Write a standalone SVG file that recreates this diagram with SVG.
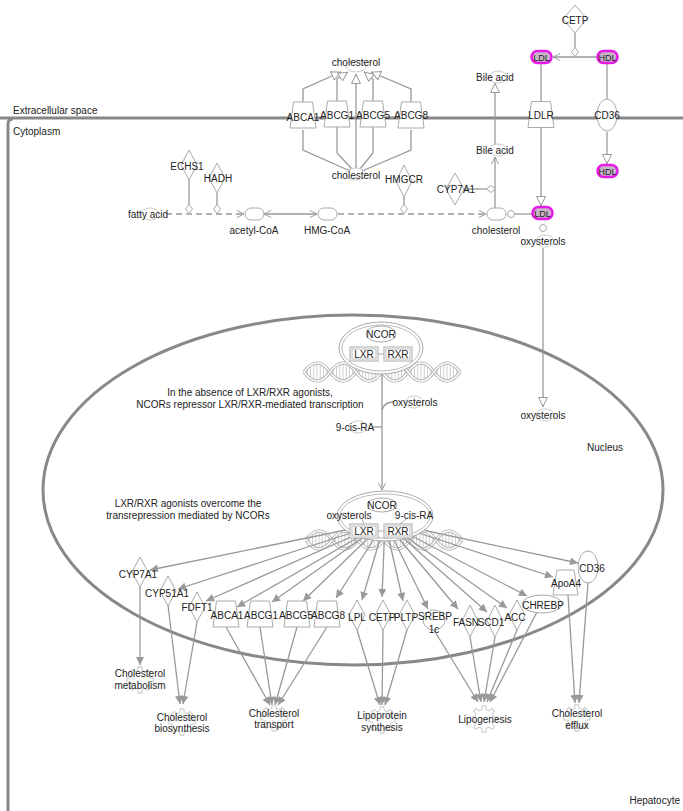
<svg xmlns="http://www.w3.org/2000/svg" width="683" height="811" viewBox="0 0 683 811">
<defs>
<style>
.t{font-family:"Liberation Sans",Arial,sans-serif;font-size:10px;fill:#222;text-anchor:middle}
.tl{text-anchor:start}
.tr{text-anchor:end}
.s9{font-size:9px}
.ln{stroke:#999;stroke-width:1.3;fill:none}
.dash{stroke-dasharray:6,4}
.nd{fill:#fff;stroke:#aaa;stroke-width:1}
.fa{fill:none;stroke:#ccc;stroke-width:1}
.mem{stroke:#888;stroke-width:3;fill:none}
.hl{fill:#c8b4c8;stroke:#e619e6;stroke-width:2.5}
.gr{fill:none;stroke:#d0d0d0;stroke-width:1}
</style>
<marker id="af" viewBox="0 0 10 10" refX="10" refY="5" markerWidth="9" markerHeight="8" markerUnits="userSpaceOnUse" orient="auto"><path d="M0,0L10,5L0,10z" fill="#999"/></marker>
<marker id="ao" viewBox="0 0 10 10" refX="10" refY="5" markerWidth="10" markerHeight="10" markerUnits="userSpaceOnUse" orient="auto"><path d="M0.5,0.5L9.5,5L0.5,9.5z" fill="#fff" stroke="#999"/></marker>
<marker id="ac" viewBox="0 0 10 10" refX="9.5" refY="5" markerWidth="8" markerHeight="8" markerUnits="userSpaceOnUse" orient="auto-start-reverse"><path d="M0.5,0.5L9.5,5L0.5,9.5" fill="none" stroke="#999" stroke-width="1.2"/></marker>
<path id="trap" d="M-9.5,-13H9.5L13,13H-13z"/>
<path id="dia" d="M0,-15L8,0L0,15L-8,0z"/>
<path id="sdia" d="M0,-4.5L3.5,0L0,4.5L-3.5,0z"/>
<path id="gear" d="M7.76,-1.94L10.89,-1.53L10.89,1.53L7.76,1.94L6.86,4.12L8.78,6.62L6.62,8.78L4.12,6.86L1.94,7.76L1.53,10.89L-1.53,10.89L-1.94,7.76L-4.12,6.86L-6.62,8.78L-8.78,6.62L-6.86,4.12L-7.76,1.94L-10.89,1.53L-10.89,-1.53L-7.76,-1.94L-6.86,-4.12L-8.78,-6.62L-6.62,-8.78L-4.12,-6.86L-1.94,-7.76L-1.53,-10.89L1.53,-10.89L1.94,-7.76L4.12,-6.86L6.62,-8.78L8.78,-6.62L6.86,-4.12Z"/>
<path id="rung" d="M3.25,-3.9v7.8M6.5,-6.75v13.5M9.75,-8.4v16.8M13,-9v18M16.25,-8.4v16.8M19.5,-6.75v13.5M22.75,-3.9v7.8" stroke="#bbb" stroke-width="0.7" fill="none"/>
<g id="helix">
<use href="#rung"/><use href="#rung" x="26"/><use href="#rung" x="52"/><use href="#rung" x="78"/><use href="#rung" x="104"/><use href="#rung" x="130"/>
<path d="M0,0q13,-18 26,0t26,0t26,0t26,0t26,0t26,0" fill="none" stroke="#aaa" stroke-width="3.2"/>
<path d="M0,0q13,-18 26,0t26,0t26,0t26,0t26,0t26,0" fill="none" stroke="#fff" stroke-width="1.6"/>
<path d="M0,0q13,18 26,0t26,0t26,0t26,0t26,0t26,0" fill="none" stroke="#aaa" stroke-width="3.2"/>
<path d="M0,0q13,18 26,0t26,0t26,0t26,0t26,0t26,0" fill="none" stroke="#fff" stroke-width="1.6"/>
</g>
</defs>
<rect width="683" height="811" fill="#fff"/>

<g id="compartments">
<path class="mem" d="M0,118H683"/>
<path class="mem" d="M8,811V124Q8,119 13,119"/>
<ellipse cx="353" cy="490" rx="310" ry="175" class="mem"/>
<text class="t tl" x="13" y="114">Extracellular space</text>
<text class="t tl" x="13" y="135">Cytoplasm</text>
<text class="t tr" x="680" y="804">Hepatocyte</text>
<text class="t" x="605" y="451">Nucleus</text>
<text class="t" x="250" y="396">In the absence of LXR/RXR agonists,</text>
<text class="t" x="250" y="408">NCORs repressor LXR/RXR-mediated transcription</text>
<text class="t" x="188" y="507">LXR/RXR agonists overcome the</text>
<text class="t" x="188" y="519">transrepression mediated by NCORs</text>
</g>

<g id="dna">
<use href="#helix" transform="translate(304,372)"/>
<use href="#helix" transform="translate(306,540)"/>
</g>

<g id="connectors">
<path class="ln" marker-end="url(#ao)" d="M303,102V89L341,72"/>
<path class="ln" marker-end="url(#ao)" d="M337,101V79L348,72"/>
<path class="ln" marker-end="url(#ao)" d="M356,168V74"/>
<path class="ln" marker-end="url(#ao)" d="M373,101V79L364,72"/>
<path class="ln" marker-end="url(#ao)" d="M411,102V89L371,72"/>
<path class="ln" d="M303,130V150L350,171"/>
<path class="ln" d="M337,126V153L352,169"/>
<path class="ln" d="M373,126V153L360,169"/>
<path class="ln" d="M411,130V150L362,171"/>
<path class="ln" d="M575,33V48"/>
<path class="ln" marker-end="url(#ac)" d="M597,57H553"/>
<path class="ln" d="M541,63V102"/>
<path class="ln" marker-end="url(#ao)" d="M541,127V206"/>
<path class="ln" d="M607,63V99"/>
<path class="ln" marker-end="url(#ao)" d="M607,132V164"/>
<path class="ln" marker-end="url(#ao)" d="M495,145V83"/>
<path class="ln" marker-end="url(#ac)" d="M495,208V157"/>
<path class="ln" d="M464,189H487"/>
<path class="ln dash" marker-end="url(#ac)" d="M166,214H244"/>
<path class="ln" d="M189,180V205"/>
<path class="ln" d="M217,193V205"/>
<path class="ln" marker-start="url(#ac)" marker-end="url(#ac)" d="M264,214H317"/>
<path class="ln dash" marker-end="url(#ac)" d="M338,214H486"/>
<path class="ln" d="M404,197V205"/>
<path class="ln" d="M515,214H532"/>
<path class="ln" marker-end="url(#ao)" d="M543,248V407"/>
<path class="ln" marker-end="url(#ac)" d="M382,374V490"/>
<path class="ln" d="M394,402Q384,402 382,410"/>
<path class="ln" d="M372,427H382"/>
<path class="ln" marker-end="url(#af)" d="M385,522L150,570"/>
<path class="ln" marker-end="url(#af)" d="M385,522L178,589"/>
<path class="ln" marker-end="url(#af)" d="M385,522L206,601"/>
<path class="ln" marker-end="url(#af)" d="M385,522L237,607"/>
<path class="ln" marker-end="url(#af)" d="M385,522L272,602"/>
<path class="ln" marker-end="url(#af)" d="M385,522L303,601"/>
<path class="ln" marker-end="url(#af)" d="M385,522L336,598"/>
<path class="ln" marker-end="url(#af)" d="M385,522L362,600"/>
<path class="ln" marker-end="url(#af)" d="M385,522L382,597"/>
<path class="ln" marker-end="url(#af)" d="M385,522L403,601"/>
<path class="ln" marker-end="url(#af)" d="M385,522L428,609"/>
<path class="ln" marker-end="url(#af)" d="M385,522L458,609"/>
<path class="ln" marker-end="url(#af)" d="M385,522L487,612"/>
<path class="ln" marker-end="url(#af)" d="M385,522L507,608"/>
<path class="ln" marker-end="url(#af)" d="M385,522L527,596"/>
<path class="ln" marker-end="url(#af)" d="M385,522L553,577"/>
<path class="ln" marker-end="url(#af)" d="M385,522L578,563"/>
<path class="ln" marker-end="url(#af)" d="M140,587V665"/>
<path class="ln" marker-end="url(#af)" d="M168,605L180,704"/>
<path class="ln" marker-end="url(#af)" d="M197,622L183,704"/>
<path class="ln" marker-end="url(#af)" d="M226,627L270,705"/>
<path class="ln" marker-end="url(#af)" d="M260,627L272,705"/>
<path class="ln" marker-end="url(#af)" d="M297,627L275,705"/>
<path class="ln" marker-end="url(#af)" d="M327,627L278,705"/>
<path class="ln" marker-end="url(#af)" d="M357,630L380,705"/>
<path class="ln" marker-end="url(#af)" d="M383,630L382,705"/>
<path class="ln" marker-end="url(#af)" d="M407,630L385,705"/>
<path class="ln" marker-end="url(#af)" d="M434,630L478,702"/>
<path class="ln" marker-end="url(#af)" d="M470,637L481,702"/>
<path class="ln" marker-end="url(#af)" d="M495,637L484,702"/>
<path class="ln" marker-end="url(#af)" d="M517,630L487,702"/>
<path class="ln" marker-end="url(#af)" d="M537,612L490,702"/>
<path class="ln" marker-end="url(#af)" d="M568,595L575,703"/>
<path class="ln" marker-end="url(#af)" d="M588,583L579,703"/>
</g>

<g id="n-chol-top"><ellipse class="fa" cx="356" cy="66" rx="10" ry="6"/><text class="t" x="356" y="66">cholesterol</text></g>
<g id="n-chol-bot"><ellipse class="fa" cx="356" cy="174" rx="10" ry="6"/><text class="t" x="356" y="179">cholesterol</text></g>
<g id="n-abca1-m"><use href="#trap" class="nd" x="303" y="115"/><text class="t" x="303" y="121">ABCA1</text></g>
<g id="n-abcg1-m"><use href="#trap" class="nd" x="337" y="114"/><text class="t" x="337" y="119">ABCG1</text></g>
<g id="n-abcg5-m"><use href="#trap" class="nd" x="373" y="114"/><text class="t" x="373" y="119">ABCG5</text></g>
<g id="n-abcg8-m"><use href="#trap" class="nd" x="411" y="115"/><text class="t" x="411" y="119">ABCG8</text></g>

<g id="n-cetp-m"><path class="nd" d="M575,5L587,19L575,33L563,19z"/><text class="t" x="575" y="24">CETP</text><use href="#sdia" class="nd" x="575" y="52"/></g>
<g id="n-ldl-ext"><rect class="hl" x="531.5" y="51" width="20" height="12" rx="6"/><text class="t s9" x="541.5" y="60.5">LDL</text></g>
<g id="n-hdl-ext"><rect class="hl" x="597.5" y="51" width="20" height="12" rx="6"/><text class="t s9" x="607.5" y="60.5">HDL</text></g>
<g id="n-ldlr"><use href="#trap" class="nd" x="541" y="114.5"/><text class="t" x="541" y="119">LDLR</text></g>
<g id="n-cd36-m"><ellipse class="nd" cx="607" cy="115" rx="10" ry="16"/><text class="t" x="607" y="119">CD36</text></g>
<g id="n-hdl-cyt"><rect class="hl" x="597.5" y="165" width="20" height="12" rx="6"/><text class="t s9" x="607.5" y="174.5">HDL</text></g>
<g id="n-bile-ext"><ellipse class="fa" cx="498" cy="77" rx="9" ry="6"/><text class="t" x="495" y="81">Bile acid</text></g>
<g id="n-bile-cyt"><ellipse class="fa" cx="498" cy="150" rx="9" ry="6"/><text class="t" x="495" y="154">Bile acid</text></g>

<g id="n-echs1"><use href="#dia" class="nd" x="189" y="165"/><text class="t" x="187" y="170">ECHS1</text><use href="#sdia" class="nd" x="189" y="209"/></g>
<g id="n-hadh"><use href="#dia" class="nd" x="217" y="178"/><text class="t" x="218" y="182">HADH</text><use href="#sdia" class="nd" x="217" y="209"/></g>
<g id="n-fatty"><ellipse class="fa" cx="150" cy="214" rx="9" ry="6"/><text class="t" x="148" y="218">fatty acid</text></g>
<g id="n-acetyl"><rect class="nd" x="245" y="208" width="19" height="12" rx="6"/><text class="t" x="254" y="234">acetyl-CoA</text></g>
<g id="n-hmgcoa"><rect class="nd" x="318" y="208" width="19" height="12" rx="6"/><text class="t" x="327" y="234">HMG-CoA</text></g>
<g id="n-hmgcr"><path class="nd" d="M404,165L412,181L404,197L396,181z"/><text class="t" x="404" y="183">HMGCR</text><use href="#sdia" class="nd" x="404" y="209"/></g>
<g id="n-cyp7a1-m"><path class="nd" d="M455,173L464,189L455,205L446,189z"/><text class="t" x="456" y="193">CYP7A1</text><use href="#sdia" class="nd" transform="translate(491,189) rotate(90)"/></g>
<g id="n-chol-mid"><rect class="nd" x="487" y="208" width="19" height="12" rx="6"/><text class="t" x="496" y="234">cholesterol</text><circle class="nd" cx="511" cy="214" r="3.5" stroke="#999"/></g>
<g id="n-ldl-cyt"><rect class="hl" x="532.5" y="207" width="20" height="12" rx="6"/><text class="t s9" x="542.5" y="216.5">LDL</text><circle class="nd" cx="543" cy="228" r="3.5" stroke="#999"/></g>
<g id="n-oxy-cyt"><ellipse class="fa" cx="545" cy="241" rx="9" ry="6"/><text class="t" x="543" y="245">oxysterols</text></g>
<g id="n-oxy-cyt2"><ellipse class="fa" cx="545" cy="415" rx="9" ry="6"/><text class="t" x="543" y="419">oxysterols</text></g>

<g id="n-complex-1">
<ellipse class="nd" cx="381" cy="348" rx="42" ry="26"/>
<ellipse cx="381" cy="348" rx="39" ry="23" fill="none" stroke="#bbb"/>
<ellipse class="nd" cx="381" cy="334" rx="15" ry="8"/>
<text class="t" x="381" y="338">NCOR</text>
<rect class="nd" x="350" y="347" width="28" height="14"/><rect x="352" y="349" width="24" height="10" fill="none" stroke="#bbb"/>
<rect class="nd" x="384" y="347" width="28" height="14"/><rect x="386" y="349" width="24" height="10" fill="none" stroke="#bbb"/>
<path d="M378,354H384" stroke="#aaa"/>
<text class="t" x="364" y="358">LXR</text><text class="t" x="398" y="358">RXR</text>
</g>
<g id="n-oxy-nuc"><ellipse class="fa" cx="414" cy="402" rx="9" ry="6"/><text class="t" x="415" y="406">oxysterols</text></g>
<g id="n-9cis-nuc"><ellipse class="fa" cx="358" cy="427" rx="9" ry="6"/><text class="t" x="355" y="431">9-cis-RA</text></g>

<g id="n-complex-2">
<ellipse class="nd" cx="385" cy="516" rx="48" ry="25"/>
<ellipse cx="385" cy="516" rx="45" ry="22" fill="none" stroke="#bbb"/>
<ellipse class="nd" cx="382" cy="505" rx="15" ry="7"/>
<text class="t" x="382" y="509">NCOR</text>
<path d="M362,519L364,524M406,519L400,524" stroke="#aaa" fill="none"/>
<text class="t" x="349" y="519">oxysterols</text>
<text class="t" x="414" y="519">9-cis-RA</text>
<rect class="nd" x="350" y="524" width="28" height="14"/><rect x="352" y="526" width="24" height="10" fill="none" stroke="#bbb"/>
<rect class="nd" x="384" y="524" width="28" height="14"/><rect x="386" y="526" width="24" height="10" fill="none" stroke="#bbb"/>
<path d="M378,531H384" stroke="#aaa"/>
<text class="t" x="364" y="535">LXR</text><text class="t" x="398" y="535">RXR</text>
</g>

<g id="n-cyp7a1"><use href="#dia" class="nd" x="140" y="572"/><text class="t" x="138" y="578">CYP7A1</text></g>
<g id="n-cyp51a1"><use href="#dia" class="nd" x="168" y="591"/><text class="t" x="167" y="597">CYP51A1</text></g>
<g id="n-fdft1"><use href="#dia" class="nd" x="197" y="607"/><text class="t" x="197" y="611">FDFT1</text></g>
<g id="n-abca1"><use href="#trap" class="nd" x="226" y="614"/><text class="t" x="227" y="619">ABCA1</text></g>
<g id="n-abcg1"><use href="#trap" class="nd" x="260" y="614"/><text class="t" x="261" y="619">ABCG1</text></g>
<g id="n-abcg5"><use href="#trap" class="nd" x="297" y="614"/><text class="t" x="296" y="619">ABCG5</text></g>
<g id="n-abcg8"><use href="#trap" class="nd" x="327" y="614"/><text class="t" x="328" y="619">ABCG8</text></g>
<g id="n-lpl"><use href="#dia" class="nd" x="357" y="615"/><text class="t" x="357" y="621">LPL</text></g>
<g id="n-cetp"><use href="#dia" class="nd" x="383" y="615"/><text class="t" x="382" y="621">CETP</text></g>
<g id="n-pltp"><use href="#dia" class="nd" x="407" y="615"/><text class="t" x="406" y="621">PLTP</text></g>
<g id="n-srebp"><ellipse class="nd" cx="434" cy="620" rx="11" ry="10"/><text class="t" x="435" y="620">SREBP</text><text class="t" x="434" y="633">1c</text></g>
<g id="n-fasn"><path class="nd" d="M470,605L478,621L470,637L462,621z"/><text class="t" x="466" y="626">FASN</text></g>
<g id="n-scd1"><path class="nd" d="M495,605L503,621L495,637L487,621z"/><text class="t" x="491" y="626">SCD1</text></g>
<g id="n-acc"><use href="#dia" class="nd" x="517" y="615"/><text class="t" x="515" y="621">ACC</text></g>
<g id="n-chrebp"><ellipse class="nd" cx="542" cy="604" rx="20" ry="9"/><text class="t" x="543" y="609">CHREBP</text></g>
<g id="n-apoa4"><path class="nd" d="M557,570H574L578,595H553z"/><text class="t" x="566" y="587">ApoA4</text></g>
<g id="n-cd36"><ellipse class="nd" cx="588" cy="567" rx="10" ry="16"/><text class="t" x="592" y="572">CD36</text></g>

<g id="f-chol-metab"><use href="#gear" class="gr" transform="translate(140,680) scale(1.2)"/><text class="t" x="140" y="677">Cholesterol</text><text class="t" x="140" y="689">metabolism</text></g>
<g id="f-chol-bio"><use href="#gear" class="gr" transform="translate(182,722) scale(1.2)"/><text class="t" x="182" y="721">Cholesterol</text><text class="t" x="182" y="732">biosynthesis</text></g>
<g id="f-chol-trans"><use href="#gear" class="gr" transform="translate(274,718) scale(1.2)"/><text class="t" x="274" y="717">Cholesterol</text><text class="t" x="274" y="728">transport</text></g>
<g id="f-lipo-syn"><use href="#gear" class="gr" transform="translate(382,720) scale(1.2)"/><text class="t" x="382" y="719">Lipoprotein</text><text class="t" x="382" y="731">synthesis</text></g>
<g id="f-lipogen"><use href="#gear" class="gr" transform="translate(484,719) scale(1.2)"/><text class="t" x="485" y="723">Lipogenesis</text></g>
<g id="f-chol-efflux"><use href="#gear" class="gr" transform="translate(577,718) scale(1.2)"/><text class="t" x="577" y="717">Cholesterol</text><text class="t" x="577" y="729">efflux</text></g>
</svg>
